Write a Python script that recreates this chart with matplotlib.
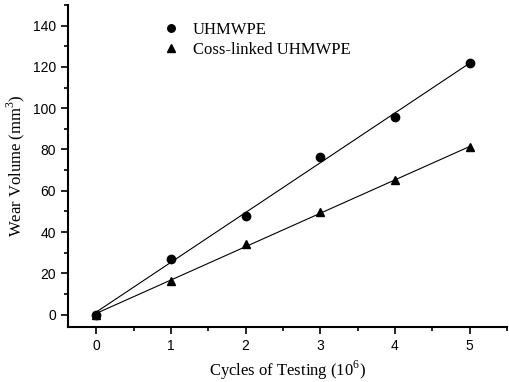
import numpy as np
import matplotlib.pyplot as plt
from matplotlib.ticker import MultipleLocator

cycles = [0, 1, 2, 3, 4, 5]
uhmwpe = [0, 27, 48, 76.5, 95.5, 122]
crosslinked = [0, 16.5, 34, 49.5, 65, 81]

plt.rcParams['mathtext.fontset'] = 'custom'
plt.rcParams['mathtext.rm'] = 'Liberation Serif'

fig = plt.figure(figsize=(5.1, 3.82), dpi=100)
ax = fig.add_axes([0.133, 0.144, 0.861, 0.843])

x = np.array(cycles)
for y, mk, lab in [(uhmwpe, 'o', 'UHMWPE'), (crosslinked, '^', 'Coss-linked UHMWPE')]:
    k, b = np.polyfit(x, y, 1)
    ax.plot(x, k * x + b, color='black', lw=0.8)
    ax.plot(x, y, mk, color='black', ms=6, ls='none', label=lab)

ax.set_xlim(-0.38, 5.5)
ax.set_ylim(-6, 150)
ax.xaxis.set_major_locator(MultipleLocator(1))
ax.xaxis.set_minor_locator(MultipleLocator(0.5))
ax.yaxis.set_major_locator(MultipleLocator(20))
ax.yaxis.set_minor_locator(MultipleLocator(10))
ax.set_yticks(range(0, 141, 20))

for s in ['top', 'right']:
    ax.spines[s].set_visible(False)
for s in ['left', 'bottom']:
    ax.spines[s].set_linewidth(1.5)
ax.tick_params(which='major', direction='out', length=5, width=1.2, labelsize=10)
ax.tick_params(which='minor', direction='out', length=3, width=1.2)
for t in ax.get_xticklabels() + ax.get_yticklabels():
    t.set_family('Liberation Sans')

ax.set_xlabel('Cycles of Testing (10$^{\\mathregular{6}}$)', family='Liberation Serif', fontsize=12, labelpad=4)
ax.set_ylabel('Wear Volume (mm$^{\\mathregular{3}}$)', family='Liberation Serif', fontsize=12, labelpad=4)

ax.legend(loc='upper left', bbox_to_anchor=(0.163, 0.995), frameon=False,
          prop={'family': 'Liberation Serif', 'size': 12}, handletextpad=0.3,
          labelspacing=0.25, markerscale=0.9)

fig.savefig('out.png', dpi=100)
